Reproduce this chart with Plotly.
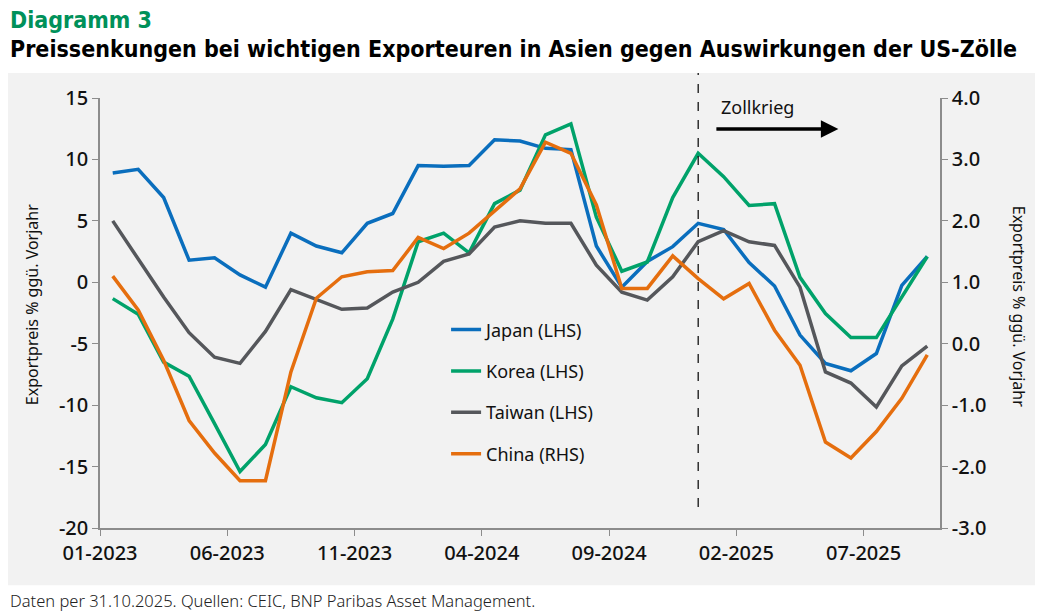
import plotly.graph_objects as go

# monthly data 01-2023 .. 09-2025
months = list(range(33))
tick_pos = [0, 5, 10, 15, 20, 25, 30]
tick_labels = ["01-2023", "06-2023", "11-2023", "04-2024", "09-2024", "02-2025", "07-2025"]
left_ticks = [15, 10, 5, 0, -5, -10, -15, -20]
left_labels = ["15", "10", "5", "0", "-5", "-10", "-15", "-20"]
right_ticks = [4, 3, 2, 1, 0, -1, -2, -3]
right_labels = ["4.0", "3.0", "2.0", "1.0", "0.0", "-1.0", "-2.0", "-3.0"]

japan = [8.9, 9.2, 6.9, 1.8, 2.0, 0.6, -0.4, 4.0, 2.95, 2.4, 4.8, 5.6,
         9.5, 9.45, 9.5, 11.6, 11.5, 10.9, 10.8, 2.95, -0.4, 1.7, 2.9,
         4.8, 4.3, 1.6, -0.3, -4.3, -6.6, -7.2, -5.8, -0.25, 2.1]
korea = [-1.33, -2.6, -6.5, -7.65, -11.5, -15.4, -13.2, -8.5, -9.4, -9.8, -7.85, -3.0,
         3.3, 4.0, 2.4, 6.4, 7.5, 12.0, 12.9, 5.3, 0.9, 1.65, 6.9,
         10.5, 8.6, 6.25, 6.4, 0.4, -2.55, -4.5, -4.5, -1.2, 2.1]
taiwan = [5.0, 1.9, -1.2, -4.1, -6.1, -6.6, -4.0, -0.6, -1.4, -2.2, -2.1, -0.8,
          0.0, 1.7, 2.3, 4.5, 5.0, 4.8, 4.8, 1.4, -0.8, -1.45, 0.45,
          3.3, 4.2, 3.3, 3.0, -0.4, -7.3, -8.2, -10.15, -6.8, -5.2]
china = [1.1, 0.55, -0.27, -1.25, -1.78, -2.23, -2.23, -0.46, 0.74, 1.09, 1.17, 1.19,
         1.73, 1.55, 1.8, 2.16, 2.52, 3.28, 3.1, 2.26, 0.9, 0.9, 1.43,
         1.06, 0.73, 0.98, 0.22, -0.35, -1.6, -1.86, -1.43, -0.89, -0.18]

tariff_month = 23

x = [m + 0.5 for m in months]
font = "Noto Sans"

fig = go.Figure()
series = [("Japan (LHS)", japan, "#0A6EBD", "y"),
          ("Korea (LHS)", korea, "#00A26A", "y"),
          ("Taiwan (LHS)", taiwan, "#55575B", "y"),
          ("China (RHS)", china, "#E56E0E", "y2")]
for name, vals, col, ax in series:
    fig.add_trace(go.Scatter(x=x, y=vals, name=name, mode="lines", yaxis=ax,
                             line=dict(color=col, width=3.5), legendgroup=name))

axis_col = "#8C8C8C"
tick_font = dict(family=font, size=20, color="#111111", weight=500)

# page body adds 8px, so the figure is 8px smaller than the window
fig.update_layout(
    width=1035, height=605,
    margin=dict(l=92, r=103, t=90, b=85),
    paper_bgcolor="white", plot_bgcolor="#F2F2F2",
    showlegend=True,
    legend=dict(x=0.412, y=0.504, xanchor="left", yanchor="top", bgcolor="rgba(0,0,0,0)",
                font=dict(family=font, size=18, color="#111111"), tracegroupgap=15,
                itemwidth=30),
    xaxis=dict(range=[0, 33], tickvals=tick_pos, ticktext=tick_labels,
               showgrid=False, zeroline=False, showline=True, linecolor=axis_col, linewidth=1.5,
               ticks="outside", ticklen=6, tickcolor=axis_col, tickfont=tick_font),
    yaxis=dict(range=[-20, 15], tickvals=left_ticks, ticktext=left_labels,
               showgrid=False, zeroline=False, showline=True, linecolor=axis_col, linewidth=1.5,
               ticks="outside", ticklen=6, tickcolor=axis_col, tickfont=tick_font),
    yaxis2=dict(range=[-3, 4], tickvals=right_ticks, ticktext=right_labels,
                overlaying="y", side="right",
                showgrid=False, zeroline=False, showline=True, linecolor=axis_col, linewidth=1.5,
                ticks="outside", ticklen=6, tickcolor=axis_col, tickfont=tick_font),
)

# grey panel behind everything
fig.add_shape(type="rect", xref="paper", yref="paper", x0=-0.2, x1=1.2, y0=-0.133, y1=1.058,
              fillcolor="#F2F2F2", line=dict(width=0), layer="below")

# tariff war marker
fig.add_shape(type="line", xref="x", yref="paper", x0=tariff_month + 0.5, x1=tariff_month + 0.5,
              y0=0.049, y1=1.058, line=dict(color="black", width=1.2, dash="dash"))
fig.add_annotation(xref="x domain", yref="y domain", x=0.879, y=0.928, ax=0.732, ay=0.928,
                   axref="x domain", ayref="y domain", text="", showarrow=True,
                   arrowhead=2, arrowsize=1, arrowwidth=3.5, arrowcolor="black")
fig.add_annotation(xref="paper", yref="paper", x=0.737, y=0.98, xanchor="left", yanchor="middle",
                   text="Zollkrieg", showarrow=False, font=dict(family=font, size=18, color="#111111"))

# axis titles
ytitle = "Exportpreis % ggü. Vorjahr"
fig.add_annotation(xref="paper", yref="paper", x=-0.08, y=0.52, xanchor="center", yanchor="middle",
                   text=ytitle, textangle=-90,
                   showarrow=False, font=dict(family=font, size=16, color="#111111"))
fig.add_annotation(xref="paper", yref="paper", x=1.095, y=0.515, xanchor="center", yanchor="middle",
                   text=ytitle, textangle=90,
                   showarrow=False, font=dict(family=font, size=16, color="#111111"))

# titles and source
fig.add_annotation(xref="paper", yref="paper", x=-0.1095, y=1.182, xanchor="left", yanchor="middle",
                   text="<b>Diagramm 3</b>", showarrow=False,
                   font=dict(family="DejaVu Sans Condensed", size=23, color="#00915A"))
fig.add_annotation(xref="paper", yref="paper", x=-0.1095, y=1.113, xanchor="left", yanchor="middle",
                   text="<b>Preissenkungen bei wichtigen Exporteuren in Asien gegen Auswirkungen der US-Zölle</b>",
                   showarrow=False, font=dict(family="DejaVu Sans Condensed", size=23, color="black"))
fig.add_annotation(xref="paper", yref="paper", x=-0.1095, y=-0.168, xanchor="left", yanchor="middle",
                   text="Daten per 31.10.2025. Quellen: CEIC, BNP Paribas Asset Management.",
                   showarrow=False, font=dict(family=font, size=16.5, color="#222222", weight=300))

fig.write_html("out.html")
